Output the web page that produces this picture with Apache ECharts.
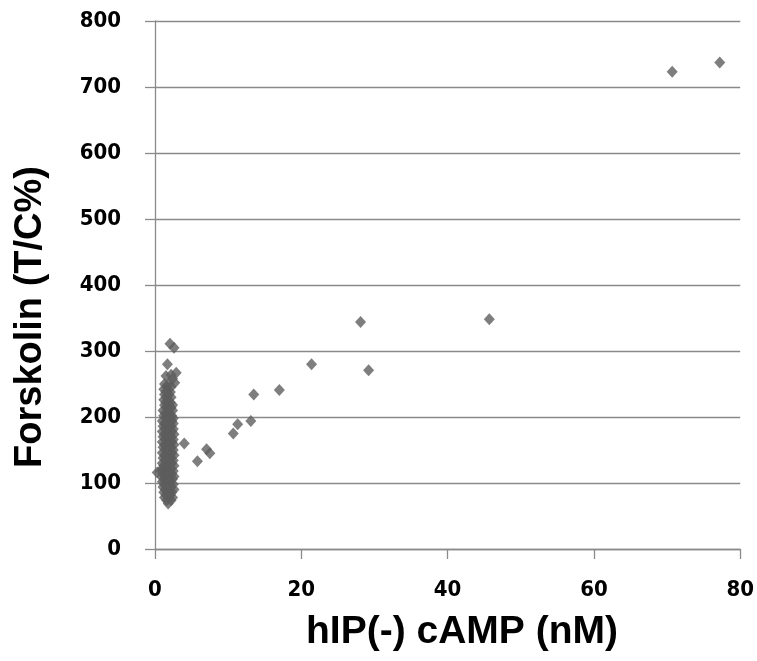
<!DOCTYPE html>
<html>
<head>
<meta charset="utf-8">
<script src="https://cdn.jsdelivr.net/npm/echarts@6/dist/echarts.min.js"></script>
<style>html,body{margin:0;padding:0;background:#fff}#c{width:757px;height:661px}</style>
</head>
<body>
<div id="c"></div>
<script>
// x: hIP(-) cAMP (nM), y: Forskolin (T/C%)
const clusterTop = [[1.3,250],[1.9,250],[1.6,246],[2.2,246],[1.2,242],[1.8,242],[1.5,238],[2.1,238],[1.3,234],[1.9,234],[1.6,230],[2.2,230],[1.2,226],[1.8,226],[1.5,222],[2.1,222],[1.3,218],[1.9,218],[2.4,218],[1.6,214],[2.2,214],[1.1,210],[1.8,210],[2.4,210],[1.4,206],[2.0,206],[1.2,202],[1.7,202],[2.3,202]];
const clusterStray = [[1.5,262],[2.2,264],[2.9,267],[1.7,280],[2.05,311],[2.6,305],[2.7,252],[2.4,258],[0.3,116]];
const clusterMid = [[1.5,198],[2.1,198],[2.5,198],[1.0,194],[1.8,194],[2.3,194],[1.3,190],[2.0,190],[2.5,190],[1.1,186],[1.6,186],[2.2,186],[1.4,182],[1.9,182],[2.5,182],[1.0,178],[1.7,178],[2.3,178],[1.3,174],[2.0,174],[2.6,174],[1.1,170],[1.6,170],[2.2,170],[1.4,166],[1.9,166],[2.5,166],[1.0,162],[1.7,162],[2.3,162],[1.3,158],[2.0,158],[2.6,158],[1.1,154],[1.6,154],[2.2,154],[1.4,150],[1.9,150],[2.5,150]];
const clusterLow = [[1.0,146],[1.7,146],[2.3,146],[1.3,142],[2.0,142],[2.6,142],[1.1,138],[1.6,138],[2.2,138],[1.4,134],[1.9,134],[2.5,134],[1.0,130],[1.7,130],[2.3,130],[1.2,126],[2.0,126],[2.6,126],[1.0,122],[1.5,122],[2.2,122],[0.8,118],[1.4,118],[1.9,118],[2.5,118],[1.1,114],[1.7,114],[2.3,114],[0.9,110],[1.4,110],[2.0,110],[2.6,110],[1.2,106],[1.8,106],[2.4,106],[1.0,102],[1.5,102],[2.1,102]];
const clusterBottom = [[1.3,98],[1.9,98],[2.5,98],[1.1,94],[1.6,94],[2.2,94],[1.4,90],[2.0,90],[2.6,90],[1.2,86],[1.8,86],[2.3,86],[1.5,82],[2.1,82],[1.3,78],[1.9,78],[2.4,78],[1.6,74],[2.2,74],[1.8,69]];
const spread = [[4.0,160],[5.8,133],[7.05,151],[7.5,145],[10.7,175],[11.3,189],[13.1,194],[13.5,234],[17.0,241],[21.4,280],[28.1,344],[29.2,271],[45.7,348],[70.7,723],[77.2,737]];
const xTicks = [0,20,40,60,80];
const yTicks = [0,100,200,300,400,500,600,700,800];

const allPoints = [].concat(clusterTop, clusterStray, clusterMid, clusterLow, clusterBottom, spread);
const chart = echarts.init(document.getElementById('c'));
const gridColor = '#8a8a8a';
const tickFont = {fontFamily: '"DejaVu Sans Condensed", "DejaVu Sans"', fontWeight: 'bold', fontSize: 22, color: '#000'};
chart.setOption({
  animation: false,
  grid: {left: 155, right: 16, top: 21, bottom: 112, containLabel: false},
  xAxis: {
    type: 'value', min: xTicks[0], max: xTicks[xTicks.length-1], interval: 20,
    axisLine: {show: true, lineStyle: {color: gridColor, width: 1.3}},
    axisTick: {show: true, length: 10, lineStyle: {color: gridColor, width: 1.3}},
    axisLabel: Object.assign({margin: 30}, tickFont),
    splitLine: {show: false}
  },
  yAxis: {
    type: 'value', min: yTicks[0], max: yTicks[yTicks.length-1], interval: 100,
    axisLine: {show: true, lineStyle: {color: gridColor, width: 1.3}},
    axisTick: {show: true, length: 10, lineStyle: {color: gridColor, width: 1.3}},
    axisLabel: Object.assign({margin: 34}, tickFont),
    splitLine: {show: true, lineStyle: {color: gridColor, width: 1.3}}
  },
  graphic: [
    {type: 'text', x: 462, y: 632, style: {text: 'hIP(-) cAMP (nM)', fontFamily: 'Liberation Sans', fontWeight: 'bold', fontSize: 39, fill: '#000', align: 'center', verticalAlign: 'middle'}},
    {type: 'text', x: 31, y: 317, rotation: Math.PI / 2, style: {text: 'Forskolin (T/C%)', fontFamily: 'Liberation Sans', fontWeight: 'bold', fontSize: 38, fill: '#000', align: 'center', verticalAlign: 'middle'}}
  ],
  series: [{
    type: 'scatter', data: allPoints, symbol: 'diamond', symbolSize: [11, 12],
    itemStyle: {color: '#5e5e5e'}
  }]
});
</script>
</body>
</html>
